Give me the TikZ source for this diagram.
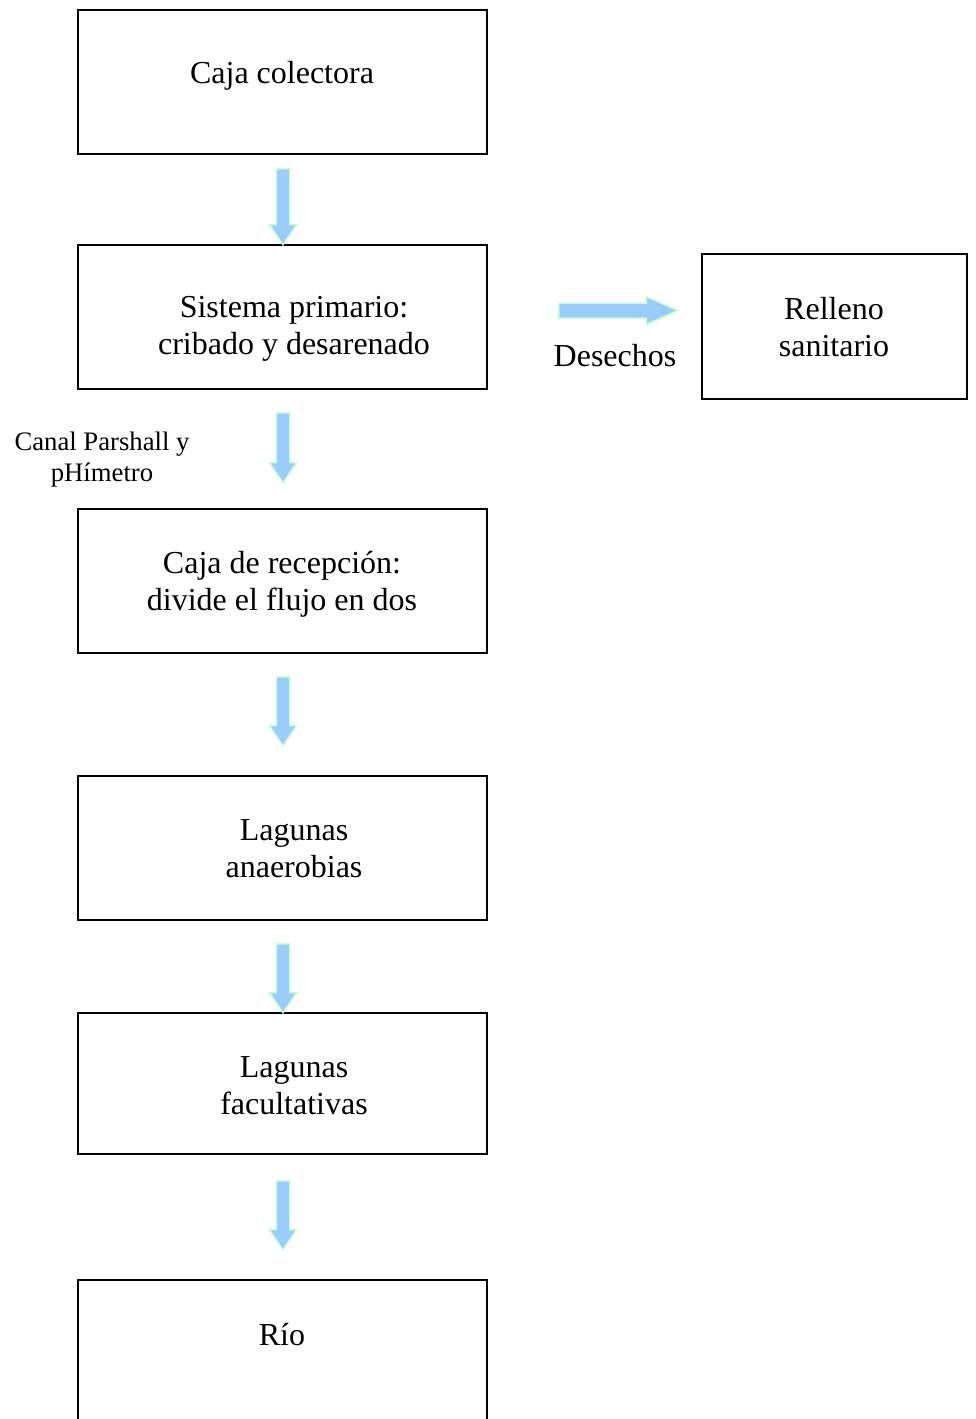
\documentclass[tikz,border=0pt]{standalone}
\usepackage{fontspec}
\setmainfont{Liberation Serif}
\usetikzlibrary{shapes.arrows}
\definecolor{azulFlecha}{HTML}{99CCFF}
\definecolor{verdeBorde}{HTML}{CCFFCC}
\tikzstyle{cajaStyle}=[shape = rectangle, draw, line width = 1.5pt, minimum width = 409pt, minimum height = 144pt, inner sep = 0pt]
\tikzstyle{textoStyle}=[align = center, font = \fontsize{32}{37}\selectfont, inner sep = 0pt]
\tikzstyle{notaStyle}=[align = center, font = \fontsize{26.7}{31}\selectfont, inner sep = 0pt]
\tikzstyle{flechaStyle}=[single arrow, draw = verdeBorde, fill = azulFlecha, line width = 1.5pt, inner sep = 6pt, single arrow head extend = 6.75pt, single arrow tip angle = 68, shape border rotate = 270, anchor = tail]

\begin{document}
\begin{tikzpicture}[x = 1pt, y = -1pt]
\clip (0,0) rectangle (975,1419);
\node[cajaStyle] (colectora) at (282.5,82) {};
\node[cajaStyle] (primario) at (282.5,317) {};
\node[cajaStyle] (recepcion) at (282.5,581) {};
\node[cajaStyle] (anaerobias) at (282.5,848) {};
\node[cajaStyle, minimum height = 141pt] (facultativas) at (282.5,1083.5) {};
\node[cajaStyle] (rio) at (282.5,1352) {};
\node[cajaStyle, minimum width = 265pt, minimum height = 145pt] (relleno) at (834.5,326.5) {};
\node[textoStyle] (tColectora) at (282,76) {Caja colectora};
\node[textoStyle] (tPrimario) at (294,328.5) {Sistema primario:\\cribado y desarenado};
\node[textoStyle] (tRecepcion) at (282,584.5) {Caja de recepción:\\divide el flujo en dos};
\node[textoStyle] (tAnaerobias) at (294,849) {Lagunas\\anaerobias};
\node[textoStyle] (tFacultativas) at (294,1086) {Lagunas\\facultativas};
\node[textoStyle] (tRio) at (282,1334.5) {Río};
\node[textoStyle] (tRelleno) at (834,327) {Relleno\\sanitario};
\node[textoStyle] (desechos) at (615,355.5) {Desechos};
\node[notaStyle] (canal) at (102,459.5) {Canal Parshall y\\pHímetro};
% flechas
\node[flechaStyle, minimum height = 76pt] (f1) at (283,168) {};
\node[flechaStyle, minimum height = 70pt] (f2) at (283,412) {};
\node[flechaStyle, minimum height = 69pt] (f3) at (283,676) {};
\node[flechaStyle, minimum height = 69pt] (f4) at (283,943) {};
\node[flechaStyle, minimum height = 69pt] (f5) at (283,1180) {};
\node[flechaStyle, minimum height = 119pt, inner sep = 6.75pt, single arrow head extend = 6.5pt, single arrow tip angle = 48, shape border rotate = 0] (f6) at (558,310.5) {};
\end{tikzpicture}
\end{document}
